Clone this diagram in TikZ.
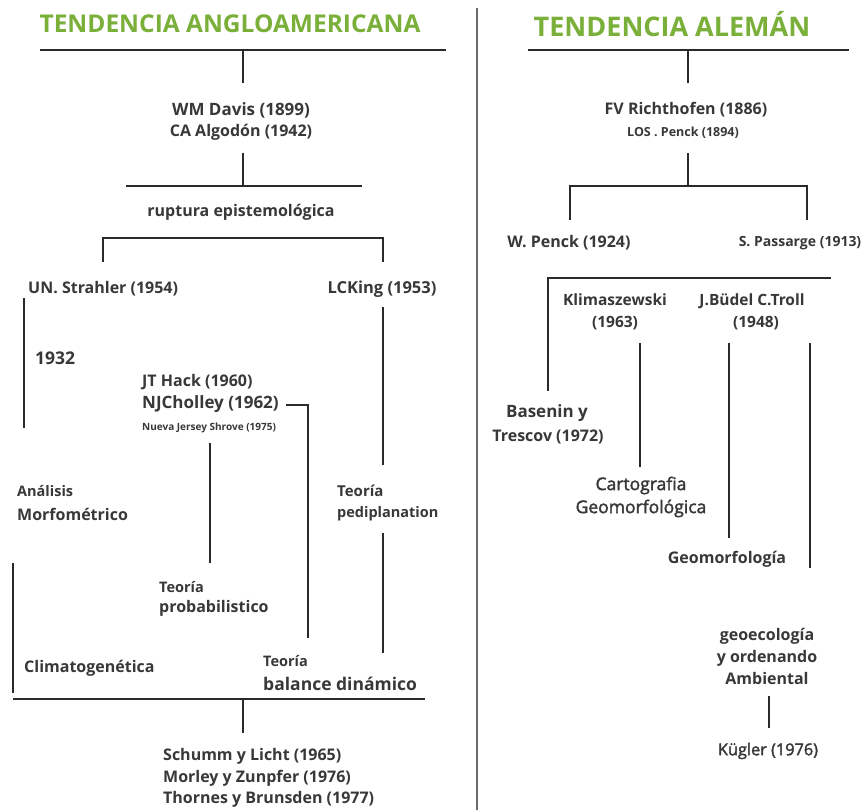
\documentclass[tikz,border=0pt]{standalone}
\usepackage{fontspec}
\setmainfont{Open Sans}
\newfontfamily\semifont{Open Sans}[FakeBold=2]
\definecolor{ttl}{HTML}{7AB03A}
\definecolor{txt}{HTML}{383838}
\definecolor{ln}{HTML}{2A2A2A}
\tikzset{
  lbl/.style={inner sep=0pt, text=txt, font=\fontsize{16}{22}\selectfont\bfseries, align=center},
  big/.style={lbl, font=\fontsize{17.5}{22}\selectfont\bfseries},
  mid/.style={lbl, font=\fontsize{14.5}{18}\selectfont\bfseries},
  tiny/.style={lbl, font=\fontsize{10}{12}\selectfont\bfseries},
  semi/.style={lbl, font=\fontsize{17.5}{23}\selectfont\semifont},
  title/.style={inner sep=0pt, text=ttl, font=\fontsize{24.5}{28}\selectfont\bfseries},
  bar/.style={draw=ln, line width=2.6pt},
  thin/.style={draw=ln!70, line width=1.2pt}
}
\begin{document}
\begin{tikzpicture}[x=1pt,y=-1pt]
\useasboundingbox[fill=white] (0,0) rectangle (867,810);
% divider
\coordinate (d1) at (477,8); \coordinate (d2) at (477,810);
\draw[thin] (d1) -- (d2);
% ===== LEFT =====
\node[title] (tl) at (230,24) {TENDENCIA ANGLOAMERICANA};
\coordinate (l1a) at (40,50); \coordinate (l1b) at (446,50);
\draw[bar] (l1a) -- (l1b);
\coordinate (l2a) at (243,50); \coordinate (l2b) at (243,83);
\draw[bar] (l2a) -- (l2b);
\node[lbl,font=\fontsize{17}{20}\selectfont\bfseries] (davis) at (241,110) {WM Davis (1899)};
\node[lbl] (algo) at (241,132) {CA Algodón (1942)};
\coordinate (l3a) at (243,153); \coordinate (l3b) at (243,186);
\draw[bar] (l3a) -- (l3b);
\coordinate (l4a) at (126,186); \coordinate (l4b) at (362,186);
\draw[bar] (l4a) -- (l4b);
\node[lbl] (rup) at (241,212) {ruptura epistemológica};
\coordinate (l5a) at (103,262); \coordinate (l5b) at (103,238);
\coordinate (l5c) at (383,238); \coordinate (l5d) at (383,262);
\draw[bar] (l5a) -- (l5b) -- (l5c) -- (l5d);
\node[lbl,anchor=west] (strah) at (28,289) {UN. Strahler (1954)};
\node[lbl,font=\fontsize{16.5}{20}\selectfont\bfseries] (king) at (382,289) {LCKing (1953)};
\coordinate (s1a) at (24,298); \coordinate (s1b) at (24,428);
\draw[bar] (s1a) -- (s1b);
\node[big,anchor=west] (y1932) at (35,358) {1932};
\node[lbl,anchor=west] (hack) at (142,382) {JT Hack (1960)};
\node[lbl,anchor=west,font=\fontsize{17}{20}\selectfont\bfseries] (chol) at (142,404) {NJCholley (1962)};
\node[tiny,anchor=west] (shrove) at (142,428) {Nueva Jersey Shrove (1975)};
\coordinate (c1) at (308,405); \coordinate (c2) at (308,638);
\draw[bar] ([xshift=7pt]chol.east |- c1) -- (c1) -- (c2);
\coordinate (k1a) at (383,307); \coordinate (k1b) at (383,465);
\draw[bar] (k1a) -- (k1b);
\node[mid,font=\fontsize{15}{18}\selectfont\bfseries,anchor=west] (teo1) at (337,491) {Teoría};
\node[lbl,font=\fontsize{14.5}{18}\selectfont\bfseries,anchor=west] (pedi) at (337,514) {pediplanation};
\coordinate (k2a) at (383,533); \coordinate (k2b) at (383,653);
\draw[bar] (k2a) -- (k2b);
\node[mid,anchor=west] (anal) at (17,491) {Análisis};
\node[lbl,anchor=west] (morf) at (17,514) {Morfométrico};
\coordinate (p1a) at (210,443); \coordinate (p1b) at (210,563);
\draw[bar] (p1a) -- (p1b);
\node[mid,anchor=west] (teo2) at (159,587) {Teoría};
\node[lbl,anchor=west] (prob) at (159,608) {probabilistico};
\coordinate (m1a) at (13,563); \coordinate (m1b) at (13,693);
\draw[bar] (m1a) -- (m1b);
\node[lbl,anchor=west] (clim) at (24,668) {Climatogenética};
\node[mid,anchor=west] (teo3) at (263,661) {Teoría};
\node[big,anchor=west] (bal) at (263,684) {balance dinámico};
\coordinate (b1a) at (13,699); \coordinate (b1b) at (425,699);
\draw[bar] (b1a) -- (b1b);
\coordinate (b2a) at (243,699); \coordinate (b2b) at (243,733);
\draw[bar] (b2a) -- (b2b);
\node[lbl,anchor=west] (sch) at (163,756) {Schumm y Licht (1965)};
\node[lbl,anchor=west] (mor) at (163,778) {Morley y Zunpfer (1976)};
\node[lbl,anchor=west] (tho) at (163,799) {Thornes y Brunsden (1977)};
% ===== RIGHT =====
\node[title,font=\fontsize{27}{30}\selectfont\bfseries] (tr) at (672,24) {TENDENCIA ALEMÁN};
\coordinate (r1a) at (528,50); \coordinate (r1b) at (849,50);
\draw[bar] (r1a) -- (r1b);
\coordinate (r2a) at (688,50); \coordinate (r2b) at (688,83);
\draw[bar] (r2a) -- (r2b);
\node[lbl] (rich) at (686,110) {FV Richthofen (1886)};
\node[tiny,font=\fontsize{12.5}{14}\selectfont\bfseries] (lpen) at (683,133) {LOS . Penck (1894)};
\coordinate (r3a) at (688,153); \coordinate (r3b) at (688,186);
\draw[bar] (r3a) -- (r3b);
\coordinate (r4a) at (570,220); \coordinate (r4b) at (570,186);
\coordinate (r4c) at (807,186); \coordinate (r4d) at (807,220);
\draw[bar] (r4a) -- (r4b) -- (r4c) -- (r4d);
\node[lbl] (wpen) at (569,243) {W. Penck (1924)};
\node[lbl,font=\fontsize{14}{18}\selectfont\bfseries] (pass) at (800,243) {S. Passarge (1913)};
\coordinate (r5a) at (548,391); \coordinate (r5b) at (548,278);
\coordinate (r5c) at (831,278);
\draw[bar] (r5a) -- (r5b) -- (r5c);
\node[lbl,font=\fontsize{15.5}{22}\selectfont\bfseries] (klim) at (615,312) {Klimaszewski\\(1963)};
\node[lbl,font=\fontsize{15.5}{22}\selectfont\bfseries] (budel) at (752,301) {J.Büdel C.Troll};
\node[lbl,font=\fontsize{15.5}{22}\selectfont\bfseries] (budely) at (756,323) {(1948)};
\coordinate (v1a) at (640,343); \coordinate (v1b) at (640,467);
\draw[bar] (v1a) -- (v1b);
\coordinate (v2a) at (729,343); \coordinate (v2b) at (729,538);
\draw[bar] (v2a) -- (v2b);
\coordinate (v3a) at (810,343); \coordinate (v3b) at (810,568);
\draw[bar] (v3a) -- (v3b);
\node[big,font=\fontsize{17}{20}\selectfont\bfseries] (bas) at (547,413) {Basenin y};
\node[lbl] (tres) at (548,437) {Trescov (1972)};
\node[semi] (carto) at (641,497) {Cartografia\\Geomorfológica};
\node[lbl] (geom) at (727,559) {Geomorfología};
\node[lbl] (geoe) at (767,656) {geoecología\\y ordenando\\Ambiental};
\coordinate (g1a) at (769,696); \coordinate (g1b) at (769,728);
\draw[bar] (g1a) -- (g1b);
\node[semi,font=\fontsize{16.3}{20}\selectfont\semifont] (kug) at (768,751) {Kügler (1976)};
\end{tikzpicture}
\end{document}
